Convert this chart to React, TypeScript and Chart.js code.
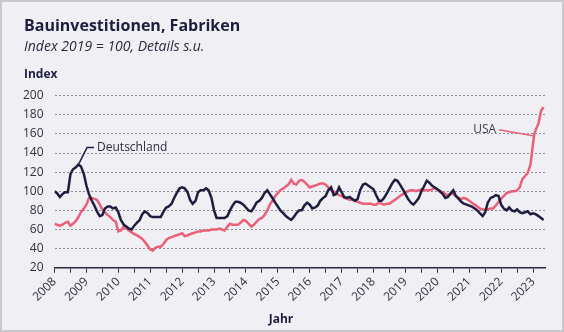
import React, { useEffect, useRef } from "react";
import { Chart, registerables } from "chart.js";

Chart.register(...registerables);

const germanyYears = [
  2008.00,2008.08,2008.17,2008.25,2008.33,2008.42,2008.50,2008.58,2008.67,2008.75,2008.83,2008.92,
  2009.00,2009.08,2009.17,2009.25,2009.33,2009.42,2009.50,2009.58,2009.67,2009.75,2009.83,2009.92,
  2010.00,2010.08,2010.17,2010.25,2010.33,2010.42,2010.50,2010.58,2010.67,2010.75,2010.83,2010.92,
  2011.00,2011.08,2011.17,2011.25,2011.33,2011.42,2011.50,2011.58,2011.67,2011.75,2011.83,2011.92,
  2012.00,2012.08,2012.17,2012.25,2012.33,2012.42,2012.50,2012.58,2012.67,2012.75,2012.83,2012.92,
  2013.00,2013.08,2013.17,2013.25,2013.33,2013.42,2013.50,2013.58,2013.67,2013.75,2013.83,2013.92,
  2014.00,2014.08,2014.17,2014.25,2014.33,2014.42,2014.50,2014.58,2014.67,2014.75,2014.83,2014.92,
  2015.00,2015.08,2015.17,2015.25,2015.33,2015.42,2015.50,2015.58,2015.67,2015.75,2015.83,2015.92,
  2016.00,2016.08,2016.17,2016.25,2016.33,2016.42,2016.50,2016.58,2016.67,2016.75,2016.83,2016.92,
  2017.00,2017.08,2017.17,2017.25,2017.33,2017.42,2017.50,2017.58,2017.67,2017.75,2017.83,2017.92,
  2018.00,2018.08,2018.17,2018.25,2018.33,2018.42,2018.50,2018.58,2018.67,2018.75,2018.83,2018.92,
  2019.00,2019.08,2019.17,2019.25,2019.33,2019.42,2019.50,2019.58,2019.67,2019.75,2019.83,2019.92,
  2020.00,2020.08,2020.17,2020.25,2020.33,2020.42,2020.50,2020.58,2020.67,2020.75,2020.83,2020.92,
  2021.00,2021.08,2021.17,2021.25,2021.33,2021.42,2021.50,2021.58,2021.67,2021.75,2021.83,2021.92,
  2022.00,2022.08,2022.17,2022.25,2022.33,2022.42,2022.50,2022.58,2022.67,2022.75,2022.83,2022.92,
  2023.00,2023.08,2023.17,2023.25,2023.33,
];
const germanyValues = [
  100,98,94,97,99,99,118,123,125,128,126,118,
  106,97,90,85,79,74,75,82,84,84,82,83,
  78,70,65,63,61,60,64,67,70,76,79,77,
  74,73,73,73,73,79,83,84,87,93,98,103,
  104,103,99,91,87,90,99,101,101,103,101,93,
  80,72,72,72,72,74,80,85,89,89,88,86,
  83,80,79,83,88,90,93,98,101,97,93,88,
  84,80,77,74,72,70,73,77,80,80,85,88,
  86,82,83,85,90,93,95,101,104,96,97,104,
  99,94,93,94,92,90,92,101,107,108,106,104,
  102,96,90,90,93,98,103,108,112,111,107,102,
  97,92,88,86,89,93,100,105,111,109,106,104,
  102,100,97,93,94,98,101,95,92,89,87,86,
  85,84,82,80,77,74,78,88,93,94,96,95,
  86,82,80,83,80,79,81,78,77,78,79,76,
  77,76,74,72,70,
];

const usaYears = [
  2008.00,2008.08,2008.17,2008.25,2008.33,2008.42,2008.50,2008.58,2008.67,2008.75,2008.83,2008.92,
  2009.00,2009.08,2009.17,2009.25,2009.33,2009.42,2009.50,2009.58,2009.67,2009.75,2009.83,2009.92,
  2010.00,2010.08,2010.17,2010.25,2010.33,2010.42,2010.50,2010.58,2010.67,2010.75,2010.83,2010.92,
  2011.00,2011.08,2011.17,2011.25,2011.33,2011.42,2011.50,2011.58,2011.67,2011.75,2011.83,2011.92,
  2012.00,2012.08,2012.17,2012.25,2012.33,2012.42,2012.50,2012.58,2012.67,2012.75,2012.83,2012.92,
  2013.00,2013.08,2013.17,2013.25,2013.33,2013.42,2013.50,2013.58,2013.67,2013.75,2013.83,2013.92,
  2014.00,2014.08,2014.17,2014.25,2014.33,2014.42,2014.50,2014.58,2014.67,2014.75,2014.83,2014.92,
  2015.00,2015.08,2015.17,2015.25,2015.33,2015.42,2015.50,2015.58,2015.67,2015.75,2015.83,2015.92,
  2016.00,2016.08,2016.17,2016.25,2016.33,2016.42,2016.50,2016.58,2016.67,2016.75,2016.83,2016.92,
  2017.00,2017.08,2017.17,2017.25,2017.33,2017.42,2017.50,2017.58,2017.67,2017.75,2017.83,2017.92,
  2018.00,2018.08,2018.17,2018.25,2018.33,2018.42,2018.50,2018.58,2018.67,2018.75,2018.83,2018.92,
  2019.00,2019.08,2019.17,2019.25,2019.33,2019.42,2019.50,2019.58,2019.67,2019.75,2019.83,2019.92,
  2020.00,2020.08,2020.17,2020.25,2020.33,2020.42,2020.50,2020.58,2020.67,2020.75,2020.83,2020.92,
  2021.00,2021.08,2021.17,2021.25,2021.33,2021.42,2021.50,2021.58,2021.67,2021.75,2021.83,2021.92,
  2022.00,2022.08,2022.17,2022.25,2022.33,2022.42,2022.50,2022.58,2022.67,2022.75,2022.83,2022.92,
  2023.00,2023.04,2023.08,2023.17,2023.25,2023.33,
];
const usaValues = [
  66,65,64,65,67,68,64,66,69,73,78,82,
  86,93,93,92,91,86,81,78,75,73,70,68,
  58,59,63,61,59,57,55,54,52,50,47,43,
  39,38,41,42,42,45,49,51,52,53,54,55,
  56,53,54,55,56,57,58,58,59,59,59,60,
  60,60,61,60,59,63,66,65,65,65,67,70,
  69,66,63,65,68,71,72,75,80,86,90,95,
  98,101,103,105,107,112,108,107,111,112,110,107,
  104,105,106,107,108,108,107,104,101,100,98,96,
  95,93,92,91,91,90,89,88,87,87,87,87,
  86,86,88,87,86,87,87,89,91,93,95,97,
  99,100,101,101,100,101,102,101,101,101,102,103,
  102,100,99,97,96,97,97,95,93,92,93,92,
  90,88,86,84,82,81,81,81,82,82,85,89,
  92,95,98,99,100,100,101,104,113,116,119,128,
  150,160,164,171,184,188,
];

const yearLabels = [2008,2009,2010,2011,2012,2013,2014,2015,2016,2017,2018,2019,2020,2021,2022,2023];
const yTicks = [20, 40, 60, 80, 100, 120, 140, 160, 180, 200];

const NAVY = "#1d1d3f";
const PINK = "#ea6079";
const FONT = "'Open Sans', 'Noto Sans', sans-serif";

export default function App() {
  const ref = useRef<HTMLCanvasElement | null>(null);

  useEffect(() => {
    document.body.style.margin = "0";
    const canvas = ref.current!;
    const annot = {
      id: "annot",
      afterDatasetsDraw(chart: any) {
        const ctx = chart.ctx;
        const xs = chart.scales.x;
        const ys = chart.scales.y;
        ctx.save();
        // Deutschland
        const px = xs.getPixelForValue(2008.77);
        const py = ys.getPixelForValue(127);
        ctx.strokeStyle = NAVY;
        ctx.lineWidth = 1.5;
        ctx.beginPath();
        ctx.moveTo(px, py - 2);
        ctx.lineTo(px + 8, py - 18);
        ctx.lineTo(px + 15, py - 18);
        ctx.stroke();
        ctx.fillStyle = "#2a2a40";
        ctx.font = `12px ${FONT}`;
        ctx.textBaseline = "middle";
        ctx.textAlign = "left";
        ctx.fillText("Deutschland", px + 18, py - 18);
        // USA
        const ux = xs.getPixelForValue(2023.0);
        const uy = ys.getPixelForValue(158);
        ctx.strokeStyle = PINK;
        ctx.beginPath();
        ctx.moveTo(ux, uy);
        ctx.lineTo(ux - 34, uy - 6);
        ctx.stroke();
        ctx.fillStyle = "#3a3a50";
        ctx.textAlign = "right";
        ctx.fillText("USA", ux - 37, uy - 6);
        ctx.restore();
      },
    };

    const chart = new Chart(canvas, {
      type: "line",
      data: {
        datasets: [
          {
            label: "Deutschland",
            data: germanyYears.map((t, i) => ({ x: t, y: germanyValues[i] })),
            borderColor: NAVY,
            borderWidth: 2.5,
            pointRadius: 0,
            tension: 0,
          },
          {
            label: "USA",
            data: usaYears.map((t, i) => ({ x: t, y: usaValues[i] })),
            borderColor: PINK,
            borderWidth: 2.5,
            pointRadius: 0,
            tension: 0,
          },
        ],
      },
      options: {
        animation: false,
        responsive: false,
        layout: { padding: { left: 0, right: 18.5, top: 95.7, bottom: 0 } },
        plugins: { legend: { display: false }, tooltip: { enabled: false } },
        scales: {
          x: {
            type: "linear",
            min: 2008,
            max: 2023.39,
            afterFit: (s: any) => { s.height = 64.3; },
            afterBuildTicks: (s: any) => {
              const arr: any[] = [];
              yearLabels.forEach((y) => {
                arr.push({ value: y });
                if (y < yearLabels[yearLabels.length - 1]) arr.push({ value: y + 0.5 });
              });
              s.ticks = arr;
            },
            ticks: {
              autoSkip: false,
              maxRotation: 45,
              minRotation: 45,
              padding: 2,
              color: "#2f2f40",
              font: { family: FONT, size: 12 },
              callback: (v: any) => (Number.isInteger(v) ? String(v) : ""),
            },
            grid: { display: true, drawOnChartArea: false, drawTicks: true, tickLength: 5, color: "#2a2a3a", lineWidth: 1 },
            border: { display: true, color: "#2a2a3a", width: 1.5 },
          },
          y: {
            min: 20,
            max: 200,
            afterFit: (s: any) => { s.width = 54.5; },
            afterBuildTicks: (s: any) => { s.ticks = yTicks.map((v) => ({ value: v })); },
            ticks: { padding: 11, color: "#2f2f40", font: { family: FONT, size: 12 } },
            grid: {
              drawTicks: false,
              color: (c: any) => (c.tick && c.tick.value === 20 ? "rgba(0,0,0,0)" : "#8c8c96"),
              lineWidth: 1,
            },
            border: { display: false, dash: [2, 2] },
          },
        },
      },
      plugins: [annot],
    } as any);
    return () => chart.destroy();
  }, []);

  return (
    <div style={{ position: "fixed", left: 0, top: 0, width: 564, height: 332, background: "#f0f0f4", fontFamily: FONT, color: NAVY, overflow: "hidden" }}>
      <canvas ref={ref} width={564} height={332} style={{ position: "absolute", left: 0, top: 0 }} />
      <div style={{ position: "absolute", left: 24, top: 14, fontSize: 16, fontWeight: 700, whiteSpace: "nowrap" }}>Bauinvestitionen, Fabriken</div>
      <div style={{ position: "absolute", left: 24, top: 36, fontSize: 14, fontStyle: "italic", color: "#2a2a40", whiteSpace: "nowrap" }}>Index 2019 = 100, Details s.u.</div>
      <div style={{ position: "absolute", left: 24, top: 65, fontSize: 12, fontWeight: 700, whiteSpace: "nowrap" }}>Index</div>
      <div style={{ position: "absolute", left: 281, top: 310, transform: "translateX(-50%)", fontSize: 12, fontWeight: 700, whiteSpace: "nowrap" }}>Jahr</div>
      <div style={{ position: "absolute", left: 0, top: 0, width: 564, height: 332, boxSizing: "border-box", border: "2px solid #c9c9cc", pointerEvents: "none" }} />
    </div>
  );
}
